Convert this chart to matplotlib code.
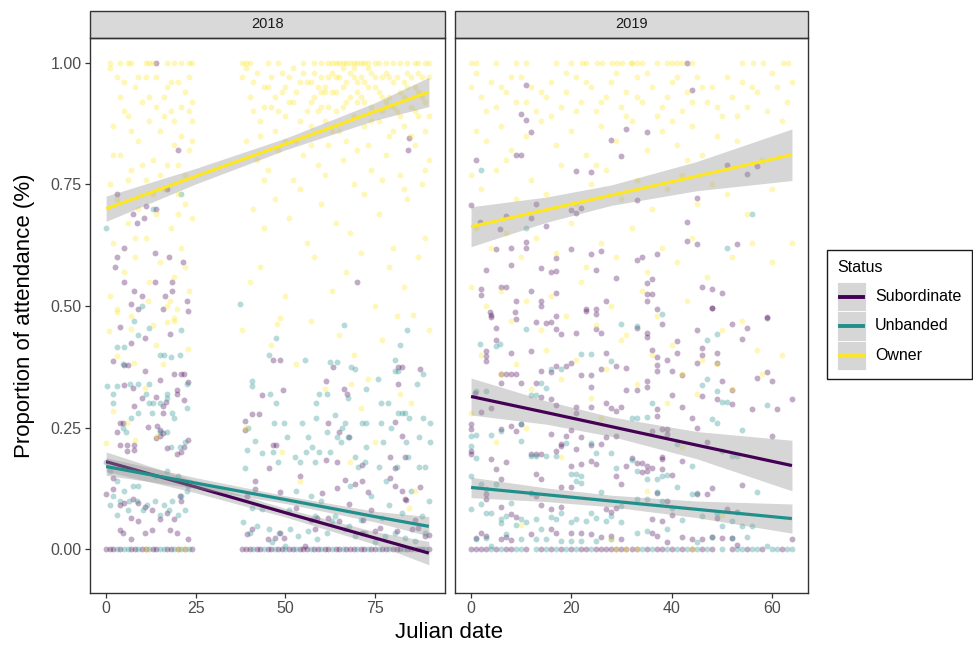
import matplotlib.pyplot as plt
from matplotlib.patches import Rectangle
from matplotlib.lines import Line2D
import numpy as np

plt.rcParams['font.family'] = ['Liberation Sans', 'DejaVu Sans']

years = ['2018', '2019']
statuses = ['Subordinate', 'Unbanded', 'Owner']
colors = {'Subordinate': '#440154', 'Unbanded': '#21908C', 'Owner': '#FDE725'}

## 2018 points (julian date, proportion)
sub18 = [(3, 0.73), (7.5, 0.69), (11, 0.705), (14, 0.70), (10.5, 0.68), (8.5, 0.67), (5, 0.62),
         (3, 0.60), (13.5, 0.61), (17.4, 0.60), (2.4, 0.58), (21.3, 0.59), (18.5, 0.55), (5, 0.55),
         (13.5, 0.55), (7.8, 0.53), (10, 0.52), (16.5, 0.52), (18.5, 0.53), (22.5, 0.51), (14, 1.0),
         (20, 0.82), (17, 0.74),
         (7.0, 0.505), (9.0, 0.494), (15.8, 0.494), (22.8, 0.489), (3.9, 0.457), (17.9, 0.443),
         (10.9, 0.435), (7.0, 0.424), (2.0, 0.387), (6, 0.378), (5, 0.378), (10.9, 0.367),
         (18.8, 0.36), (20.8, 0.36), (21.8, 0.36), (22.8, 0.343), (14.9, 0.347), (5, 0.337),
         (7.6, 0.332), (19.7, 0.328), (19.7, 0.32), (21.8, 0.307), (10, 0.31), (13.9, 0.313),
         (7.9, 0.294), (15.8, 0.294), (16.7, 0.302), (15.8, 0.28), (3.9, 0.26), (4.8, 0.26),
         (11.8, 0.251), (14.1, 0.254), (14.9, 0.246), (3, 0.241), (5.8, 0.215), (3.9, 0.215),
         (7.9, 0.215), (7.9, 0.205), (5.9, 0.202), (13.9, 0.228), (14.9, 0.233), (15.8, 0.238),
         (22.8, 0.225), (21.8, 0.21), (19.9, 0.195), (20.8, 0.2), (16.9, 0.208), (2, 0.146),
         (0, 0.113), (2, 0.124), (5, 0.095), (3.9, 0.090), (7.6, 0.103), (9, 0.096), (10.9, 0.086),
         (12.7, 0.081), (14.9, 0.062), (16.9, 0.075), (18.8, 0.063), (20.7, 0.109), (20.8, 0.099),
         (7, 0.065), (3.9, 0.04), (4.8, 0.033), (7, 0.021), (10.9, 0.034), (12.7, 0.04),
         (17.9, 0.04), (19.7, 0.034), (22.8, 0.022), (8.8, 0.058),
         (84.5, 0.846), (84.3, 0.82), (70, 0.55),
         (46.4, 0.388), (48.4, 0.388), (49.4, 0.327), (63.3, 0.375), (61.3, 0.345), (66.2, 0.33),
         (67.2, 0.32), (81.5, 0.375), (82.5, 0.375), (87.5, 0.37), (81.5, 0.34), (80.6, 0.262),
         (61.8, 0.259), (64.8, 0.242), (67.8, 0.23), (82.5, 0.233), (83.4, 0.19), (61.3, 0.183),
         (64.3, 0.18), (71.3, 0.174), (79.2, 0.19), (80.6, 0.167), (66.5, 0.142), (69.3, 0.135),
         (71.3, 0.14), (79.2, 0.146), (80.6, 0.130), (83.3, 0.103), (87.5, 0.128), (82.6, 0.12),
         (46.4, 0.215), (47.5, 0.215), (45.3, 0.166), (48.5, 0.118), (60.1, 0.116), (64.3, 0.125),
         (73.1, 0.117), (83.5, 0.101), (52.9, 0.084), (58.9, 0.065), (61.8, 0.064), (65, 0.058),
         (67.8, 0.092), (71.7, 0.061), (76.4, 0.044), (81, 0.038), (85.2, 0.041), (87.1, 0.044),
         (49.5, 0.024), (48.4, 0.034), (47, 0.024), (58.3, 0.041), (71.3, 0.034), (75, 0.037),
         (89, 0.027), (55.5, 0.007), (45.2, 0.021), (38.6, 0.263), (38.6, 0.246), (40.6, 0.277),
         (42.5, 0.277), (43.4, 0.318), (41.6, 0.140), (39.2, 0.109), (41.6, 0.123), (40.6, 0.041),
         (39.2, 0.031), (54, 0.15), (57, 0.06), (74, 0.08), (86, 0.06), (90, 0.03)]
sub18_zero = [0, 1, 2, 4, 7, 8, 10, 11, 13, 14, 17, 18, 20, 22, 24,
              38, 39, 40, 42, 43, 45, 46, 48, 49, 51, 52, 54, 55, 56, 58, 59, 61, 62, 64, 65, 67,
              68, 69, 71, 72, 74, 75, 77, 78, 80, 81, 82, 84, 85, 87, 88, 90]

unb18 = [(0, 0.66), (13, 0.70), (21, 0.73), (10, 0.50), (7.8, 0.47), (3, 0.415), (5, 0.415),
         (9, 0.44), (12, 0.455), (21, 0.45), (15, 0.40), (16, 0.40), (18, 0.395), (4.8, 0.38),
         (0.2, 0.335), (3, 0.335), (6.7, 0.34), (9, 0.34), (12, 0.34), (2, 0.32), (11, 0.32),
         (17, 0.32), (22.5, 0.34), (20.7, 0.40), (2, 0.30), (12, 0.30), (13, 0.30), (15, 0.30),
         (17, 0.31), (18.5, 0.28), (19, 0.27), (22.5, 0.29), (7, 0.27), (9, 0.28), (12.7, 0.28),
         (15, 0.24), (17, 0.24), (4.8, 0.25), (5.6, 0.24), (18, 0.21), (20.7, 0.21), (22, 0.22),
         (3, 0.14), (2, 0.11), (5, 0.12), (7.5, 0.13), (9, 0.13), (13.5, 0.15), (17, 0.16),
         (20, 0.15), (22.8, 0.13), (1, 0.09), (3.8, 0.10), (6.5, 0.10), (8.5, 0.10), (11.5, 0.09),
         (13.7, 0.10), (16, 0.09), (18.5, 0.10), (21, 0.11), (22.6, 0.12), (3, 0.07), (6, 0.08),
         (10.3, 0.08), (15, 0.07), (17.5, 0.08), (20, 0.07), (22, 0.08), (0, 0.18), (1, 0.16),
         (66.3, 0.46), (84, 0.45), (47.4, 0.435), (82, 0.42), (45.5, 0.40), (55.4, 0.39),
         (62.4, 0.384), (64.4, 0.384), (68.4, 0.375), (69.3, 0.37), (80.6, 0.39), (80.5, 0.367),
         (81.5, 0.367), (88.5, 0.36), (75.8, 0.35), (86.6, 0.34), (45.6, 0.32), (59.5, 0.32),
         (61.5, 0.32), (67.5, 0.31), (72.5, 0.33), (47.3, 0.30), (58.5, 0.30), (76.6, 0.30),
         (78.6, 0.30), (81.5, 0.28), (82.5, 0.28), (83.3, 0.28), (84.5, 0.27), (58.6, 0.27),
         (54.6, 0.26), (49.5, 0.26), (46.7, 0.26), (63.7, 0.275), (66.6, 0.26), (65.7, 0.25),
         (76.6, 0.26), (79.5, 0.25), (71.3, 0.26), (72.4, 0.26), (88.5, 0.27), (90.4, 0.26),
         (50.4, 0.23), (56.2, 0.23), (61.5, 0.24), (64.4, 0.23), (67.4, 0.23), (65.5, 0.22),
         (72.5, 0.21), (77.3, 0.22), (83.5, 0.22), (87.3, 0.23), (90.3, 0.22), (55.6, 0.20),
         (57.4, 0.21), (59.5, 0.20), (62.5, 0.20), (69.3, 0.19), (70.2, 0.17), (72.3, 0.18),
         (76, 0.17), (81, 0.17), (84.2, 0.19), (87.3, 0.17), (89, 0.17), (52.8, 0.19),
         (54.2, 0.18), (58.3, 0.18), (46.6, 0.20), (48, 0.18), (45.3, 0.041), (48.1, 0.034),
         (51.3, 0.041), (53.6, 0.027), (56.4, 0.037), (58.7, 0.021), (61.5, 0.034), (63.9, 0.068),
         (66.6, 0.041), (69.4, 0.027), (72.2, 0.034), (75.0, 0.014), (77.8, 0.027), (80.6, 0.034),
         (83.4, 0.024), (86.2, 0.017), (88.9, 0.034), (46.2, 0.014), (49.9, 0.007), (58.3, 0.068),
         (62.9, 0.058), (67.6, 0.048), (76.9, 0.065), (82.5, 0.075), (88.0, 0.068), (40.6, 0.345),
         (40.6, 0.335), (38.6, 0.166), (39.7, 0.25), (41.6, 0.222), (43.4, 0.198), (39.2, 0.205),
         (40.6, 0.085), (38.3, 0.055), (40.2, 0.034), (42, 0.048), (43.4, 0.082), (37.2, 0.505),
         (53, 0.12), (60, 0.10), (68, 0.13), (74, 0.11), (79, 0.09), (85, 0.12), (90, 0.10),
         (51, 0.08), (57, 0.11), (71, 0.06), (78, 0.14)]
unb18_zero = [3, 5, 6, 9, 12, 15, 16, 19, 21, 23,
              41, 44, 47, 50, 53, 57, 60, 63, 66, 70, 73, 76, 79, 83, 86, 89]

own18 = [(3, 0.97), (5, 0.96), (8, 0.95), (16, 0.93), (20, 0.96), (22, 0.94), (10, 0.92),
         (14, 0.91), (18, 0.90), (24, 0.92), (6, 0.89), (12, 0.88), (2, 0.87), (15, 0.86),
         (21, 0.85), (9, 0.84), (19, 0.83), (23, 0.82), (4, 0.81), (13, 0.80), (17, 0.79),
         (7, 0.78), (22, 0.77), (11, 0.76), (1, 0.75), (16, 0.74), (20, 0.73), (3, 0.72),
         (9, 0.70), (14, 0.69), (24, 0.68), (6, 0.67), (18, 0.66), (11, 0.64), (2, 0.63),
         (21, 0.62), (8, 0.60), (15, 0.59), (5, 0.57), (19, 0.56), (12, 0.55), (23, 0.53),
         (1, 0.52), (17, 0.50), (7, 0.48), (13, 0.46), (22, 0.58), (20, 0.79), (24, 0.88),
         (3, 0.493), (3, 0.488), (0.9, 0.448), (6.9, 0.453), (3, 0.398), (7.9, 0.383),
         (13.9, 0.419), (15.8, 0.381), (11.8, 0.51), (17.7, 0.51), (18.8, 0.476), (18.8, 0.47),
         (16.9, 0.467), (19.9, 0.493), (22.8, 0.412), (2, 0.284), (0, 0.219), (5.9, 0.26),
         (14.1, 0.232), (8.1, 0.224), (10.9, 0.332), (4, 0.93), (11, 0.97), (17, 0.95), (23, 0.90),
         (1, 0.99), (5, 0.90), (7, 0.86), (9, 0.97), (12, 0.93), (14, 0.97), (16, 0.89), (18, 0.96),
         (19, 0.88), (21, 0.91), (23, 0.97), (24, 0.84), (2, 0.81), (6, 0.76), (10, 0.79),
         (13, 0.73), (15, 0.77), (20, 0.69), (22, 0.71), (8, 0.64),
         (38, 0.97), (40, 0.93), (41, 0.90), (43, 0.88), (44, 0.95), (46, 0.91), (47, 0.86),
         (49, 0.94), (50, 0.89), (51, 0.97), (52, 0.92), (53, 0.84), (54, 0.96), (56, 0.90),
         (57, 0.87), (58, 0.93), (59, 0.95), (60, 0.91), (61, 0.88), (62, 0.97), (63, 0.94),
         (64, 0.90), (65, 0.86), (66, 0.95), (67, 0.92), (68, 0.98), (69, 0.89), (70, 0.96),
         (71, 0.93), (72, 0.87), (73, 0.99), (74, 0.91), (75, 0.95), (76, 0.88), (77, 0.97),
         (78, 0.92), (79, 0.85), (80, 0.96), (81, 0.90), (82, 0.94), (83, 0.87), (84, 0.98),
         (85, 0.91), (86, 0.95), (87, 0.89), (88, 0.93), (89, 0.86), (90, 0.97),
         (55, 0.98), (57, 0.96), (61, 0.95), (64, 0.97), (66, 0.99), (69, 0.97), (72, 0.96),
         (74, 0.98), (79, 0.97), (83, 0.96), (87, 0.98), (60, 0.94), (70, 0.92), (77, 0.93),
         (39, 0.99), (41, 0.96), (42, 0.98), (44, 0.91), (45, 0.95), (46, 0.97), (47, 0.93),
         (48, 0.90), (49, 0.98), (50, 0.95), (51, 0.92), (52, 0.99), (53, 0.94), (54, 0.88),
         (56, 0.96), (57, 0.92), (58, 0.98), (59, 0.90), (60, 0.97), (61, 0.94), (62, 0.91),
         (63, 0.98), (64, 0.94), (65, 0.97), (66, 0.91), (67, 0.96), (68, 0.93), (69, 0.99),
         (70, 0.94), (71, 0.97), (72, 0.92), (73, 0.95), (74, 0.88), (75, 0.97), (76, 0.94),
         (77, 0.90), (78, 0.98), (79, 0.93), (80, 0.91), (81, 0.97), (82, 0.89), (83, 0.93),
         (84, 0.95), (85, 0.97), (86, 0.90), (87, 0.94), (88, 0.97), (89, 0.92), (90, 0.89),
         (43, 0.85), (50, 0.84), (57, 0.83), (63, 0.86), (67, 0.84), (73, 0.83), (80, 0.86),
         (85, 0.85), (89, 0.78), (44, 0.76), (54, 0.74), (61, 0.77), (69, 0.75), (77, 0.76),
         (83, 0.74),
         (39, 0.84), (42, 0.80), (45, 0.78), (48, 0.82), (52, 0.76), (55, 0.81), (59, 0.79),
         (62, 0.83), (66, 0.80), (70, 0.82), (74, 0.78), (78, 0.81), (82, 0.77), (86, 0.83),
         (90, 0.80), (41, 0.70), (44, 0.66), (47, 0.72), (51, 0.68), (56, 0.63), (60, 0.71),
         (64, 0.67), (68, 0.65), (72, 0.73), (76, 0.69), (80, 0.62), (84, 0.72), (88, 0.75),
         (40, 0.55), (43, 0.58), (50, 0.52), (58, 0.60), (63, 0.53), (67, 0.57), (71, 0.61),
         (75, 0.50), (79, 0.58), (83, 0.54), (87, 0.60), (89, 0.64), (38, 0.45), (46, 0.42),
         (53, 0.38), (57, 0.47), (61, 0.33), (65, 0.44), (69, 0.40), (73, 0.35), (77, 0.43),
         (81, 0.48), (85, 0.30), (90, 0.45), (39, 0.25), (49, 0.20), (54, 0.14), (68, 0.18),
         (75, 0.22), (86, 0.12), (48.5, 0.476), (47.6, 0.462), (85.5, 0.482), (68.2, 0.34),
         (82, 0.32), (71, 0.29), (84.5, 0.084)]
own18_one = [1, 4, 6, 7, 11, 12, 13, 17, 19, 21, 23, 24,
             38, 39, 40, 45, 48, 55, 58, 60, 62, 63, 64, 65, 66, 67, 68, 69, 70, 71, 72, 73, 75,
             76, 78, 80, 82, 84, 86, 87, 89, 90]
own18_zero = [11, 20, 22]

## 2019 points
sub19 = [(10.9, 0.955), (9.9, 0.895), (10.9, 0.882), (12, 0.857), (0.9, 0.801), (8.9, 0.81),
         (9.9, 0.81), (21, 0.778), (24, 0.775), (28, 0.842), (30, 0.808), (31, 0.864), (0, 0.708),
         (13, 0.709), (6.9, 0.686), (1.8, 0.672), (5.8, 0.658), (12, 0.681), (14.9, 0.665),
         (20, 0.698), (21, 0.691), (22, 0.702), (11, 0.632), (11, 0.619), (4.9, 0.617),
         (7.9, 0.62), (7.9, 0.584), (17, 0.599), (20, 0.617), (24, 0.606), (25, 0.575),
         (26, 0.614), (3, 0.575), (14, 0.578), (16, 0.569), (17, 0.571), (29, 0.557), (2, 0.535),
         (2, 0.523), (6, 0.54), (7, 0.54), (9, 0.51), (12, 0.53), (14, 0.51), (14, 0.50),
         (17, 0.526), (17, 0.479), (23, 0.49), (25, 0.483), (27, 0.51), (3.8, 0.487), (8.8, 0.487),
         (43, 1.0), (44, 0.944), (35, 0.858), (33, 0.718), (45, 0.722), (51, 0.79), (55, 0.772),
         (57, 0.787), (43, 0.672), (43, 0.634), (45, 0.628), (53, 0.627), (34, 0.601),
         (33, 0.595), (37, 0.606), (35, 0.548), (36, 0.556), (35, 0.524), (36, 0.524),
         (35, 0.511), (46, 0.54), (48, 0.535), (50, 0.527), (48, 0.495), (37, 0.494), (59, 0.477),
         (4, 0.482), (4, 0.477), (9, 0.474), (13, 0.467), (15, 0.466), (16, 0.467), (17, 0.452),
         (18, 0.442), (21, 0.445), (23, 0.493), (25, 0.493), (25, 0.452), (26, 0.445),
         (4.9, 0.455), (3, 0.407), (3, 0.397), (3, 0.386), (4.9, 0.43), (8, 0.404), (12, 0.407),
         (14, 0.366), (16, 0.364), (17, 0.376), (19, 0.376), (20, 0.383), (22, 0.359),
         (24, 0.359), (24, 0.333), (26, 0.37), (27, 0.404), (29, 0.376), (31, 0.373), (6, 0.36),
         (7, 0.36), (8, 0.36), (9, 0.36), (6, 0.342), (10, 0.342), (13, 0.342), (14, 0.313),
         (16, 0.308), (17, 0.296), (21, 0.293), (21, 0.28), (24, 0.293), (27, 0.3), (28, 0.29),
         (29, 0.284), (30, 0.293), (31, 0.327), (0.8, 0.322), (1.9, 0.282), (3.9, 0.291),
         (0, 0.258), (0, 0.248), (6, 0.248), (8, 0.253), (9, 0.244), (10, 0.258), (16, 0.237),
         (18, 0.216), (19, 0.233), (20, 0.246), (22, 0.23), (24, 0.214), (26, 0.217), (27, 0.23),
         (29, 0.233), (31, 0.171), (0, 0.202), (0, 0.196), (4, 0.185), (4.9, 0.165), (7, 0.18),
         (12, 0.195), (13, 0.195), (14, 0.195), (17, 0.202), (18, 0.212), (21, 0.207),
         (24, 0.181), (20, 0.172), (22, 0.176), (25, 0.175), (29, 0.151), (30, 0.135), (6, 0.144),
         (13, 0.154), (14, 0.144), (18, 0.127), (20, 0.127), (3, 0.103), (3, 0.113), (12, 0.116),
         (13, 0.109), (6, 0.086), (8, 0.072), (9, 0.067), (14, 0.09), (16, 0.083), (18, 0.086),
         (27, 0.082), (28, 0.076), (29, 0.085), (1, 0.024), (2, 0.034), (3, 0.027), (6, 0.02),
         (7, 0.026), (8, 0.019), (12, 0.031), (16, 0.041), (17, 0.034), (20, 0.034), (22, 0.034),
         (24, 0.031), (26, 0.026), (28, 0.027), (30, 0.022),
         (48, 0.495), (59, 0.476), (38, 0.462), (52, 0.464), (55, 0.454), (33, 0.455), (35, 0.445),
         (35, 0.436), (45, 0.45), (54, 0.433), (41, 0.429), (41, 0.404), (46, 0.414), (46, 0.4),
         (49, 0.404), (49, 0.383), (36, 0.409), (37, 0.396), (39, 0.39), (37, 0.378), (37, 0.366),
         (40, 0.366), (42, 0.358), (45, 0.383), (57, 0.352), (59, 0.364), (60, 0.345), (35, 0.346),
         (35, 0.334), (50, 0.346), (52, 0.328), (40, 0.318), (33, 0.328), (46, 0.316), (49, 0.308),
         (52, 0.299), (64, 0.308), (61, 0.289), (56, 0.288), (42, 0.293), (37, 0.288), (37, 0.273),
         (44, 0.27), (45, 0.25), (39, 0.248), (38, 0.248), (39, 0.236), (36, 0.243), (47, 0.22),
         (60, 0.232), (32, 0.188), (33, 0.177), (34, 0.178), (35, 0.171), (38, 0.19), (38, 0.186),
         (35, 0.161), (34, 0.159), (36, 0.168), (38, 0.164), (40, 0.153), (42, 0.182), (48, 0.126),
         (37, 0.116), (39, 0.099), (45, 0.113), (47, 0.113), (54, 0.133), (36, 0.063), (38, 0.058),
         (40, 0.07), (49, 0.065), (51, 0.083), (53, 0.076), (42, 0.026), (44, 0.021), (46, 0.022),
         (48, 0.026), (50, 0.024), (52, 0.024), (53, 0.008), (64, 0.021), (36, 0.034), (37, 0.027),
         (39, 0.014)]
sub19_zero = [0, 1, 2, 3, 5, 7, 8, 11, 14, 16, 18, 20, 22, 23, 25, 26, 27, 28, 29, 30, 31, 32,
              33, 35, 37, 38, 40, 42, 44, 46, 48, 52, 55, 58, 62]

unb19 = [(10.9, 0.453), (5.8, 0.421), (5, 0.417), (1.8, 0.421), (22, 0.402), (24, 0.402),
         (28, 0.386), (30, 0.464), (16, 0.37), (18, 0.37), (14, 0.341), (15, 0.332), (12, 0.318),
         (13, 0.318), (1, 0.325), (3, 0.325), (32, 0.27), (0, 0.232), (0, 0.212), (1, 0.235),
         (1, 0.188), (4, 0.235), (6, 0.244), (10, 0.258), (10, 0.222), (12, 0.192), (13, 0.192),
         (15, 0.192), (17, 0.192), (19, 0.219), (20, 0.154), (21, 0.154), (21, 0.14), (22, 0.15),
         (22, 0.137), (26, 0.118), (24, 0.219), (25, 0.198), (28, 0.198), (29, 0.168), (0, 0.151),
         (0, 0.082), (2, 0.134), (3, 0.124), (5, 0.134), (2, 0.092), (3, 0.075), (4, 0.075),
         (6, 0.062), (6, 0.054), (7, 0.068), (8, 0.095), (9, 0.049), (10, 0.062), (11, 0.055),
         (13, 0.062), (14, 0.041), (16, 0.067), (17, 0.062), (18, 0.075), (20, 0.056), (21, 0.062),
         (23, 0.059), (24, 0.075), (25, 0.065), (27, 0.059), (28, 0.068), (30, 0.055), (1, 0.021),
         (3, 0.024), (4, 0.007), (7, 0.031), (10, 0.021), (13, 0.021), (15, 0.021), (18, 0.017),
         (20, 0.017), (22, 0.017), (25, 0.017), (28, 0.021), (30, 0.089), (2, 0.78), (11, 0.66),
         (38, 0.484), (33, 0.458), (49, 0.443), (47, 0.431), (46, 0.337), (49, 0.325), (50, 0.302),
         (51, 0.302), (59, 0.297), (36, 0.3), (33, 0.27), (35, 0.272), (48, 0.268), (49, 0.26),
         (54, 0.245), (32, 0.184), (33, 0.161), (35, 0.144), (37, 0.144), (38, 0.151), (39, 0.152),
         (44, 0.172), (41, 0.217), (50, 0.201), (52, 0.192), (53, 0.192), (57, 0.117), (41, 0.128),
         (44, 0.113), (45, 0.116), (33, 0.103), (35, 0.104), (37, 0.118), (38, 0.099), (40, 0.085),
         (42, 0.06), (46, 0.068), (49, 0.074), (50, 0.048), (52, 0.058), (54, 0.048), (56, 0.048),
         (33, 0.034), (35, 0.037), (39, 0.041), (45, 0.014), (48, 0.026), (52, 0.024), (55, 0.026),
         (59, 0.007), (51, 0.62), (56, 0.69), (47, 0.35)]
unb19_zero = [4, 6, 9, 10, 13, 15, 17, 19, 21, 24, 34, 36, 39, 41, 43, 45, 47, 50, 53, 54, 56,
              57, 60, 61, 63, 64]

own19 = [(0, 0.95), (2, 0.93), (4, 0.96), (5, 0.91), (7, 0.94), (9, 0.92), (10, 0.97), (12, 0.95),
         (13, 0.90), (15, 0.93), (16, 0.96), (18, 0.91), (19, 0.94), (21, 0.97), (22, 0.92),
         (24, 0.95), (25, 0.90), (27, 0.93), (28, 0.96), (30, 0.91), (31, 0.94), (33, 0.97),
         (34, 0.92), (36, 0.95), (37, 0.89), (39, 0.93), (40, 0.96), (42, 0.90), (43, 0.94),
         (45, 0.97), (47, 0.92), (48, 0.95), (50, 0.89), (52, 0.93), (54, 0.96), (55, 0.91),
         (57, 0.94), (59, 0.90), (61, 0.95), (63, 0.92), (1, 0.86), (3, 0.84), (6, 0.87), (8, 0.82),
         (11, 0.85), (14, 0.88), (17, 0.83), (20, 0.86), (23, 0.81), (26, 0.87), (29, 0.84),
         (32, 0.88), (35, 0.82), (38, 0.86), (41, 0.83), (44, 0.87), (46, 0.81), (49, 0.85),
         (53, 0.84), (58, 0.80), (0, 0.77), (2, 0.74), (5, 0.78), (9, 0.72), (12, 0.76), (15, 0.73),
         (18, 0.79), (21, 0.71), (24, 0.75), (27, 0.78), (30, 0.72), (33, 0.76), (36, 0.70),
         (39, 0.74), (42, 0.77), (45, 0.71), (48, 0.75), (51, 0.73), (55, 0.69), (60, 0.74),
         (1, 0.98), (3, 0.90), (6, 0.95), (8, 0.97), (11, 0.92), (14, 0.94), (16, 0.89), (19, 0.98),
         (21, 0.90), (23, 0.96), (26, 0.92), (29, 0.98), (31, 0.89), (33, 0.93), (35, 0.98),
         (38, 0.91), (40, 0.88), (41, 0.97), (44, 0.92), (46, 0.95), (49, 0.91), (51, 0.97),
         (53, 0.89), (56, 0.95), (60, 0.98), (62, 0.88), (64, 0.96), (7, 0.80), (25, 0.79),
         (43, 0.80),
         (1, 0.66), (4, 0.62), (7, 0.65), (10, 0.60), (13, 0.64), (17, 0.61), (20, 0.67),
         (23, 0.58), (26, 0.63), (29, 0.60), (32, 0.66), (35, 0.57), (38, 0.62), (41, 0.59),
         (44, 0.64), (47, 0.56), (52, 0.60), (56, 0.63), (60, 0.59), (64, 0.63), (0, 0.54),
         (3, 0.50), (6, 0.53), (8, 0.47), (11, 0.51), (14, 0.45), (16, 0.52), (19, 0.48),
         (22, 0.55), (25, 0.46), (28, 0.50), (31, 0.44), (34, 0.53), (37, 0.48), (40, 0.42),
         (43, 0.51), (46, 0.39), (50, 0.45), (54, 0.47), (57, 0.41), (2, 0.40), (6, 0.36),
         (9, 0.38), (12, 0.33), (15, 0.41), (18, 0.35), (21, 0.39), (24, 0.31), (27, 0.37),
         (30, 0.43), (33, 0.34), (36, 0.40), (39, 0.30), (42, 0.36), (45, 0.32), (49, 0.38),
         (52, 0.33), (58, 0.36), (62, 0.40), (0, 0.28), (5, 0.22), (11, 0.25), (18, 0.19),
         (26, 0.27), (35, 0.12), (42, 0.21), (50, 0.07), (10, 0.05), (28, 0.02)]
own19_one = [0, 0.9, 4.9, 8.9, 10.9, 17, 20, 22.1, 22.9, 25.1, 26.1, 28.1, 29.1, 30.1, 31.9,
             32.1, 33.1, 34.1, 37.1, 39.1, 40.1, 41.1, 42.1, 44.1, 54.1, 56.2, 58.2, 62.3, 63.3]
own19_zero = [29, 31, 33, 44]

## lm fits: (x, fit, lower, upper)
sub18_fit = [(0, 0.180, 0.160, 0.200), (25, 0.128, 0.116, 0.140), (50, 0.075, 0.066, 0.084),
             (75, 0.023, 0.010, 0.036), (90, -0.008, -0.032, 0.016)]
unb18_fit = [(0, 0.170, 0.152, 0.188), (25, 0.136, 0.125, 0.147), (50, 0.102, 0.094, 0.110),
             (75, 0.067, 0.056, 0.078), (90, 0.047, 0.027, 0.067)]
own18_fit = [(0, 0.700, 0.674, 0.726), (25, 0.767, 0.751, 0.783), (50, 0.833, 0.821, 0.845),
             (75, 0.900, 0.882, 0.918), (90, 0.940, 0.910, 0.970)]
sub19_fit = [(0, 0.314, 0.276, 0.352), (15, 0.281, 0.257, 0.305), (28, 0.252, 0.232, 0.272),
             (45, 0.214, 0.186, 0.242), (64, 0.172, 0.120, 0.224)]
unb19_fit = [(0, 0.127, 0.106, 0.148), (15, 0.112, 0.098, 0.126), (28, 0.099, 0.087, 0.111),
             (45, 0.082, 0.065, 0.099), (64, 0.063, 0.033, 0.093)]
own19_fit = [(0, 0.663, 0.622, 0.704), (15, 0.698, 0.672, 0.724), (28, 0.728, 0.707, 0.749),
             (45, 0.767, 0.737, 0.797), (64, 0.811, 0.758, 0.864)]

panels = {
    '2018': {'Subordinate': (sub18, sub18_zero, [], sub18_fit),
             'Unbanded': (unb18, unb18_zero, [], unb18_fit),
             'Owner': (own18, own18_zero, own18_one, own18_fit)},
    '2019': {'Subordinate': (sub19, sub19_zero, [], sub19_fit),
             'Unbanded': (unb19, unb19_zero, [], unb19_fit),
             'Owner': (own19, own19_zero, own19_one, own19_fit)},
}
xlims = {'2018': (-4.5, 94.5), '2019': (-3.2, 67.2)}
xticks = {'2018': [0, 25, 50, 75], '2019': [0, 20, 40, 60]}

W, H = 973, 647
fig = plt.figure(figsize=(W / 100, H / 100), dpi=100)
ax1 = fig.add_axes([90 / W, 54 / H, 355 / W, 555 / H])
ax2 = fig.add_axes([455 / W, 54 / H, 353 / W, 555 / H])

for ax, yr in zip([ax1, ax2], years):
    # points first
    for st in statuses:
        pts, zeros, ones, fit = panels[yr][st]
        xy = np.array(pts)
        xs = np.concatenate([xy[:, 0], zeros, ones])
        ys = np.concatenate([xy[:, 1], np.zeros(len(zeros)), np.ones(len(ones))])
        ax.scatter(xs, ys, s=18, color=colors[st], alpha=0.33, linewidths=0, zorder=2)
    # smooth: ribbon + line per group
    for st in statuses:
        f = np.array(panels[yr][st][3])
        ax.fill_between(f[:, 0], f[:, 2], f[:, 3], color='#999999', alpha=0.4, linewidth=0, zorder=3)
        ax.plot(f[:, 0], f[:, 1], color=colors[st], lw=2.3, zorder=3, solid_capstyle='butt')

    ax.set_xlim(*xlims[yr])
    ax.set_ylim(-0.09, 1.051)
    ax.set_xticks(xticks[yr])
    ax.set_yticks([0, 0.25, 0.5, 0.75, 1.0])
    ax.set_yticklabels(['0.00', '0.25', '0.50', '0.75', '1.00'])
    for s in ax.spines.values():
        s.set_color('#333333')
        s.set_linewidth(1.0)
    ax.tick_params(direction='out', length=3.5, width=0.9, color='#333333',
                   labelcolor='#4D4D4D', labelsize=11.5, pad=2.5)
    # strip
    ax.add_patch(Rectangle((0, 1.0), 1, 27 / 555, transform=ax.transAxes, clip_on=False,
                           facecolor='#D9D9D9', edgecolor='#333333', linewidth=1.0))
    ax.text(0.5, 1.0 + 13.5 / 555, yr, transform=ax.transAxes, ha='center', va='center',
            fontsize=10.5, color='#1A1A1A')

ax2.tick_params(left=False, labelleft=False)

fig.text(449 / W, 1 - 633 / H, 'Julian date', ha='center', va='center', fontsize=16)
fig.text(25 / W, 1 - 316 / H, 'Proportion of attendance (%)', ha='center', va='center',
         rotation=90, fontsize=16)

# legend
fig.add_artist(Rectangle((827 / W, 1 - 379 / H), 145 / W, 129 / H, transform=fig.transFigure,
                         facecolor='white', edgecolor='#1A1A1A', linewidth=1.0))
fig.text(837 / W, 1 - 268 / H, 'Status', ha='left', va='center', fontsize=11.5)
key_top = 282
key_h = 29.3
for i, st in enumerate(statuses):
    y0 = key_top + i * key_h
    fig.add_artist(Rectangle((837 / W, 1 - (y0 + key_h) / H), 29 / W, key_h / H,
                             transform=fig.transFigure, facecolor='#D6D6D6',
                             edgecolor='white', linewidth=0.6))
    yc = 1 - (y0 + key_h / 2) / H
    fig.add_artist(Line2D([840 / W, 863 / W], [yc, yc], transform=fig.transFigure,
                          color=colors[st], lw=2.8))
    fig.text(875 / W, yc, st, ha='left', va='center', fontsize=11.5)

fig.savefig('out.png', dpi=100)
